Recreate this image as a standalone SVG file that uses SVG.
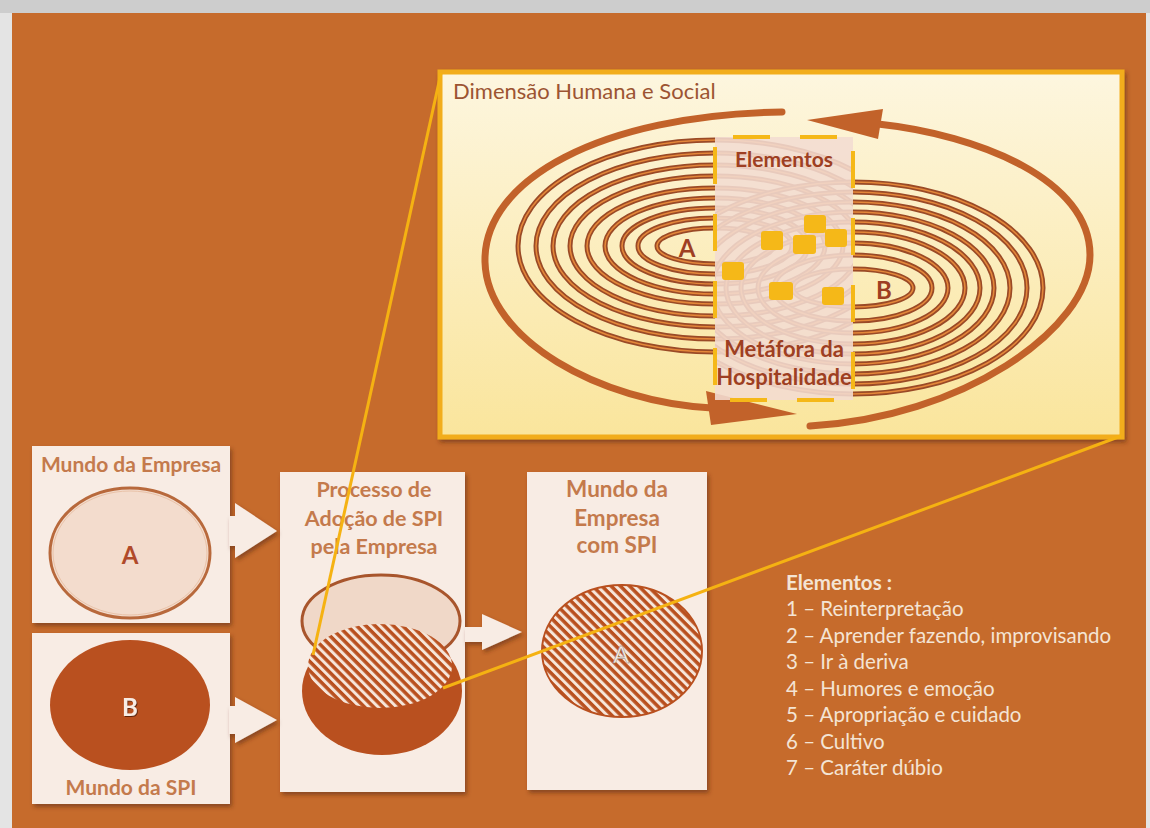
<svg xmlns="http://www.w3.org/2000/svg" xmlns:xlink="http://www.w3.org/1999/xlink" width="1150" height="828" viewBox="0 0 1150 828">
  <style>
    .ttl { font-family: Lato, "Open Sans", "Liberation Sans", sans-serif; font-weight: bold; fill: #c47a4c; text-anchor: middle; }
    .pnl { font-family: Lato, "Open Sans", "Liberation Sans", sans-serif; font-weight: bold; fill: #9e3f22; text-anchor: middle; }
    .big { font-family: Lato, "Open Sans", "Liberation Sans", sans-serif; font-weight: bold; text-anchor: middle; }
    .lst { font-family: Lato, "Open Sans", "Liberation Sans", sans-serif; fill: #f4e4d4; font-size: 20.5px; }
    .box { fill: #f8ece4; filter: url(#shadow); }
    .blk { fill: #f8ece4; filter: url(#shadow); }
    .zoomline { stroke: #f5b212; stroke-width: 3; fill: none; }
    .cycle { stroke: #c2622a; stroke-width: 7; fill: none; stroke-linecap: round; }
    .head { fill: #c2622a; }
    .sq { fill: #f5b818; }
  </style>
  <defs>
    <filter id="shadow" x="-10%" y="-10%" width="125%" height="125%">
      <feDropShadow dx="2" dy="3" stdDeviation="2" flood-color="#5a2a10" flood-opacity="0.55"/>
    </filter>
    <filter id="txtshadow" x="-20%" y="-20%" width="150%" height="150%">
      <feDropShadow dx="1" dy="1" stdDeviation="0.6" flood-color="#3a1505" flood-opacity="0.7"/>
    </filter>
    <linearGradient id="panelFill" x1="0" y1="0" x2="0" y2="1">
      <stop offset="0" stop-color="#fdf6df"/>
      <stop offset="1" stop-color="#fae59c"/>
    </linearGradient>
    <pattern id="hatch" patternUnits="userSpaceOnUse" width="6.5" height="6.5" patternTransform="rotate(-45)">
      <rect width="6.5" height="6.5" fill="#b9501f"/>
      <rect x="0" y="0" width="3" height="6.5" fill="#f6e6da"/>
    </pattern>
    <clipPath id="clipL"><rect x="440" y="72" width="413" height="365"/></clipPath>
    <clipPath id="clipR"><rect x="715" y="72" width="407" height="365"/></clipPath>
    <!-- concentric rings around A -->
    <g id="ringsA">
      <ellipse cx="715" cy="246" rx="58" ry="18"/>
      <ellipse cx="715" cy="246" rx="77" ry="28"/>
      <ellipse cx="715" cy="246" rx="93" ry="38"/>
      <ellipse cx="715" cy="246" rx="110" ry="48"/>
      <ellipse cx="715" cy="246" rx="128" ry="58"/>
      <ellipse cx="715" cy="246" rx="145" ry="70"/>
      <ellipse cx="715" cy="246" rx="162" ry="81"/>
      <ellipse cx="715" cy="246" rx="179" ry="93"/>
      <ellipse cx="715" cy="246" rx="197" ry="106"/>
    </g>
    <!-- concentric rings around B -->
    <g id="ringsB">
      <ellipse cx="853" cy="288" rx="60" ry="19"/>
      <ellipse cx="853" cy="288" rx="79" ry="33"/>
      <ellipse cx="853" cy="288" rx="95" ry="45"/>
      <ellipse cx="853" cy="288" rx="112" ry="56"/>
      <ellipse cx="853" cy="288" rx="127" ry="66"/>
      <ellipse cx="853" cy="288" rx="141" ry="76"/>
      <ellipse cx="853" cy="288" rx="157" ry="86"/>
      <ellipse cx="853" cy="288" rx="174" ry="96"/>
      <ellipse cx="853" cy="288" rx="190" ry="106"/>
    </g>
  </defs>

  <!-- page frame -->
  <rect x="0" y="0" width="1150" height="828" fill="#e4e4e4"/>
  <rect x="0" y="0" width="1150" height="13" fill="#cdcdcd"/>
  <rect x="12" y="13" width="1134" height="815" fill="#c66b2c"/>

  <!-- zoomed panel: human and social dimension -->
  <g id="panel">
    <rect x="440" y="72" width="682" height="365" fill="url(#panelFill)" stroke="#f2ad1b" stroke-width="5" filter="url(#shadow)"/>
    <text x="453" y="99" font-family="Lato, 'Open Sans', sans-serif" font-size="22" fill="#9c5432">Dimensão Humana e Social</text>

    <g fill="none" clip-path="url(#clipL)">
      <use href="#ringsA" stroke="#9a4a26" stroke-width="5"/>
      <use href="#ringsA" stroke="#e4873a" stroke-width="1.6"/>
    </g>
    <g fill="none" clip-path="url(#clipR)">
      <use href="#ringsB" stroke="#9a4a26" stroke-width="5"/>
      <use href="#ringsB" stroke="#e4873a" stroke-width="1.6"/>
    </g>

    <!-- cycle arrows -->
    <path class="cycle" d="M 782 112 C 600 115, 483 180, 485 262 C 487 340, 600 402, 712 408"/>
    <polygon class="head" points="706,391 711,425 797,414"/>
    <path class="cycle" d="M 810 426 C 960 418, 1090 330, 1090 255 C 1090 180, 980 135, 878 124"/>
    <polygon class="head" points="883,109 878,139 807,120"/>

    <!-- elements zone -->
    <g id="elementos">
      <rect x="715" y="137" width="138" height="263" fill="#f3dcd2" fill-opacity="0.88"/>
      <rect x="715" y="137" width="138" height="263" fill="none" stroke="#f5b818" stroke-width="4" stroke-dasharray="37 30" stroke-dashoffset="49"/>
      <rect class="sq" x="761" y="231" width="22" height="19" rx="3"/>
      <rect class="sq" x="804" y="215" width="22" height="18" rx="3"/>
      <rect class="sq" x="793" y="235" width="23" height="19" rx="3"/>
      <rect class="sq" x="825" y="229" width="22" height="18" rx="3"/>
      <rect class="sq" x="722" y="262" width="22" height="18" rx="3"/>
      <rect class="sq" x="769" y="282" width="24" height="18" rx="3"/>
      <rect class="sq" x="822" y="287" width="22" height="18" rx="3"/>
      <text class="pnl" x="784" y="167" font-size="21">Elementos</text>
      <text class="pnl" x="784" y="357" font-size="22">Metáfora da</text>
      <text class="pnl" x="784" y="385" font-size="22">Hospitalidade</text>
    </g>
    <text class="big" x="687" y="257" font-size="24" fill="#9e3f22">A</text>
    <text class="big" x="884" y="299" font-size="24" fill="#9e3f22">B</text>
  </g>

  <!-- world of the company -->
  <g id="mundo-empresa">
    <rect class="box" x="32" y="446" width="198" height="177"/>
    <text class="ttl" x="131" y="472" font-size="21">Mundo da Empresa</text>
    <ellipse cx="130" cy="553" rx="80" ry="65" fill="#f3dccd" stroke="#b8693c" stroke-width="3"/>
    <ellipse cx="130" cy="553" rx="77" ry="62" fill="none" stroke="#e9c2a8" stroke-width="1"/>
    <text class="big" x="130" y="564" font-size="24" fill="#b04a2a">A</text>
  </g>

  <!-- world of SPI -->
  <g id="mundo-spi">
    <rect class="box" x="32" y="633" width="198" height="171"/>
    <ellipse cx="130" cy="705" rx="80" ry="65" fill="#b9501f"/>
    <text class="big" x="130" y="716" font-size="24" fill="#f8ece4" filter="url(#txtshadow)">B</text>
    <text class="ttl" x="131" y="795" font-size="21">Mundo da SPI</text>
  </g>

  <!-- adoption process -->
  <g id="processo">
    <rect class="box" x="280" y="472" width="185" height="320"/>
    <text class="ttl" x="374" y="497" font-size="21.5">Processo de</text>
    <text class="ttl" x="374" y="526" font-size="21.5">Adoção de SPI</text>
    <text class="ttl" x="374" y="554" font-size="21.5">pela Empresa</text>
    <ellipse cx="381" cy="621" rx="79" ry="46" fill="#f0d8c8" stroke="#a8552c" stroke-width="3"/>
    <ellipse cx="382" cy="691" rx="80" ry="64" fill="#b9501f"/>
    <ellipse cx="380" cy="666" rx="72" ry="42" fill="url(#hatch)"/>
  </g>

  <!-- company world with SPI -->
  <g id="empresa-com-spi">
    <rect class="box" x="527" y="472" width="180" height="318"/>
    <text class="ttl" x="617" y="497" font-size="22.5">Mundo da</text>
    <text class="ttl" x="617" y="526" font-size="22.5">Empresa</text>
    <text class="ttl" x="617" y="553" font-size="22.5">com SPI</text>
    <ellipse cx="622" cy="651" rx="80" ry="66" fill="url(#hatch)" stroke="#b9501f" stroke-width="2"/>
    <text x="621" y="663" font-family="Lato, 'Open Sans', sans-serif" font-size="24" fill="#f8ece4" stroke="#8a7a70" stroke-width="0.5" text-anchor="middle">A</text>
  </g>

  <!-- element list -->
  <g id="lista">
    <text class="lst" x="786" y="590" font-weight="bold">Elementos :</text>
    <text class="lst" x="786" y="616">1 – Reinterpretação</text>
    <text class="lst" x="786" y="643">2 – Aprender fazendo, improvisando</text>
    <text class="lst" x="786" y="669">3 – Ir à deriva</text>
    <text class="lst" x="786" y="696">4 – Humores e emoção</text>
    <text class="lst" x="786" y="722">5 – Apropriação e cuidado</text>
    <text class="lst" x="786" y="749">6 – Cultivo</text>
    <text class="lst" x="786" y="775">7 – Caráter dúbio</text>
  </g>

  <!-- connectors -->
  <g id="connectors">
    <polygon class="blk" points="229,516 235,516 235,503 277,531 235,558 235,546 229,546"/>
    <polygon class="blk" points="229,706 235,706 235,697 277,720 235,743 235,734 229,734"/>
    <polygon class="blk" points="465,627 482,627 482,614 522,632 482,650 482,642 465,642"/>
    <line class="zoomline" x1="441" y1="73" x2="313" y2="655"/>
    <line class="zoomline" x1="1121" y1="436" x2="443" y2="688"/>
  </g>
</svg>
